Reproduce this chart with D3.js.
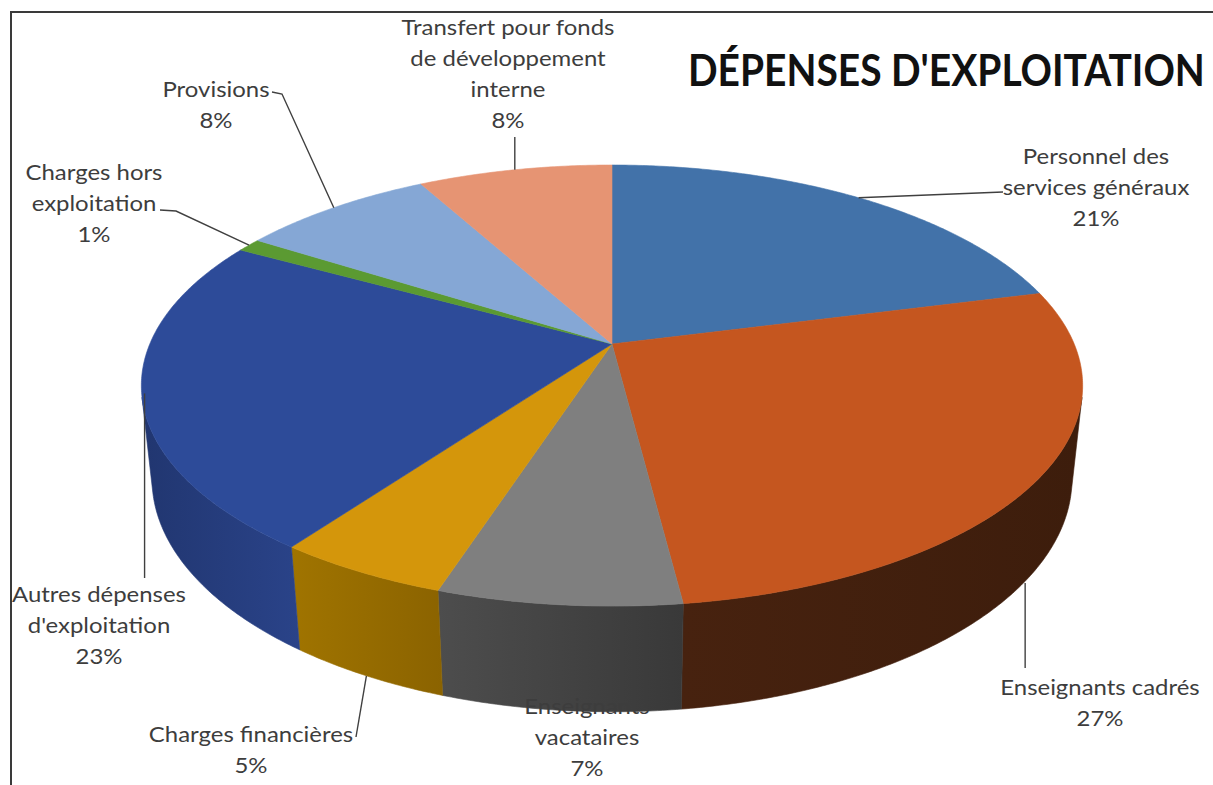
<!DOCTYPE html>
<html><head><meta charset="utf-8">
<script src="https://cdn.jsdelivr.net/npm/d3@7"></script>
<style>body{margin:0;background:#fff;overflow:hidden}</style>
</head><body>
<svg id="c" width="1213" height="785"></svg>
<script>
// ---- data ----
const categories = ["Personnel des services généraux","Enseignants cadrés","Enseignants vacataires","Charges financières","Autres dépenses d'exploitation","Charges hors exploitation","Provisions","Transfert pour fonds de développement interne"];
const values = [21, 27, 7, 5, 23, 1, 8, 8];
const labelLines = [["Personnel des","services généraux"],["Enseignants cadrés"],["Enseignants","vacataires"],["Charges financières"],["Autres dépenses","d'exploitation"],["Charges hors","exploitation"],["Provisions"],["Transfert pour fonds","de développement","interne"]];
const title = "DÉPENSES D'EXPLOITATION";

// ---- styles ----
const topColors = ["#4272a9","#c5561f","#7f7f7f","#d4960b","#2d4b99","#5b9a32","#85a7d5","#e69473"];
const sideColors = [["#2c4d73","#2c4d73"],["#47220f","#3d1d0c"],["#4d4d4d","#393939"],["#a07400","#8b6300"],["#213670","#2a4389"],["#3d6a22","#3d6a22"],["#5a7394","#5a7394"],["#9e6650","#9e6650"]];
// label layout: center x, first line center y
const labelPos = [[1096,157],[1100,688],[587,707],[251,735],[99,595],[94,173],[216,90],[508,28]];
const lineH = 31;

const svg = d3.select("#c");

// ---- 3D projection ----
const cam = {cx:612, cy:344, F:2177, D:4.71, phi:27.4*Math.PI/180, h:0.229};
const sp = Math.sin(cam.phi), cp = Math.cos(cam.phi);
function proj(theta, z){
  const px = Math.sin(theta), py = -Math.cos(theta);
  const vx = px, vy = py - cam.D*cp, vz = z - cam.D*sp;
  const depth = -cp*vy - sp*vz;
  const up = -sp*vy + cp*vz;
  return [cam.cx + cam.F*vx/depth, cam.cy - cam.F*up/depth];
}
const apex = [cam.cx, cam.cy];
const thMin = Math.acos(-1/(cam.D*cp)), thMax = 2*Math.PI - thMin;

const pie = d3.pie().sort(null).value(d=>d);
const arcs = pie(values);
const total = d3.sum(values);

function rim(a, b, z){
  const n = Math.max(2, Math.ceil(Math.abs(b-a)/(Math.PI/360)));
  return d3.range(n+1).map(i => proj(a + (b-a)*i/n, z));
}

const defs = svg.append("defs");
const gWall = svg.append("g");
const gTop = svg.append("g");

arcs.forEach((d,i)=>{
  const a = Math.max(d.startAngle, thMin), b = Math.min(d.endAngle, thMax);
  if (b <= a) return;
  const pts = rim(a,b,0).concat(rim(b,a,-cam.h));
  const xs = pts.map(p=>p[0]);
  const gid = "wg"+i;
  const lg = defs.append("linearGradient").attr("id",gid).attr("gradientUnits","userSpaceOnUse")
    .attr("x1", d3.min(xs)).attr("x2", d3.max(xs)).attr("y1",0).attr("y2",0);
  lg.append("stop").attr("offset",0).attr("stop-color",sideColors[i][0]);
  lg.append("stop").attr("offset",1).attr("stop-color",sideColors[i][1]);
  gWall.append("path").attr("d", d3.line()(pts)+"Z").attr("fill","url(#"+gid+")")
    .attr("stroke","url(#"+gid+")").attr("stroke-width",0.6);
});

arcs.forEach((d,i)=>{
  const pts = [apex].concat(rim(d.startAngle, d.endAngle, 0));
  gTop.append("path").attr("d", d3.line()(pts)+"Z").attr("fill", topColors[i])
    .attr("stroke", topColors[i]).attr("stroke-width",0.6).attr("stroke-linejoin","round");
});

// ---- leader lines ----
const mid = d => (d.startAngle + d.endAngle)/2;
const anc = arcs.map((d,i)=>{
  const m = mid(d);
  const front = m > thMin && m < thMax;
  return proj(m, front ? -cam.h : 0);
});
const leaders = [
  [[1003,192], anc[0]],
  [[anc[1][0]-4,668], [anc[1][0]-4, anc[1][1]+6]],
  null,
  [[356,737], anc[3]],
  [[anc[4][0]+3,578], [anc[4][0]+3, anc[4][1]+1]],
  [[160,210],[176,211], anc[5]],
  [[272,92],[282,94], anc[6]],
  [[anc[7][0],137], anc[7]]
];
const gL = svg.append("g");
leaders.forEach(l=>{
  if(!l) return;
  gL.append("path").attr("d", d3.line()(l)).attr("fill","none").attr("stroke","#404040").attr("stroke-width",1.4);
});

// ---- labels ----
const gT = svg.append("g").attr("font-family","Lato, 'Open Sans', sans-serif").attr("font-size",21)
  .attr("fill","#3d3d3d").attr("text-anchor","middle");
arcs.forEach((d,i)=>{
  const lines = labelLines[i].concat([Math.round(values[i]/total*100)+"%"]);
  const g = gT.append("g").attr("transform", `translate(${labelPos[i][0]},0) scale(1.14,1)`);
  const t = g.append("text");
  lines.forEach((s,k)=>{
    t.append("tspan").attr("x", 0).attr("y", labelPos[i][1] + k*lineH + 7).text(s);
  });
});

// ---- title ----
const tt = svg.append("text").attr("x",0).attr("y",0).attr("font-family","Lato, sans-serif").attr("font-weight","bold")
  .attr("font-size",44).attr("fill","#111").text(title);
const natural = tt.node().getComputedTextLength();
tt.attr("transform", `translate(688,86) scale(${517/natural},1)`);

// ---- frame ----
svg.append("path").attr("d","M11,785 L11,12 L1213,12").attr("fill","none").attr("stroke","#3a3a3a").attr("stroke-width",2);
</script>
</body></html>
